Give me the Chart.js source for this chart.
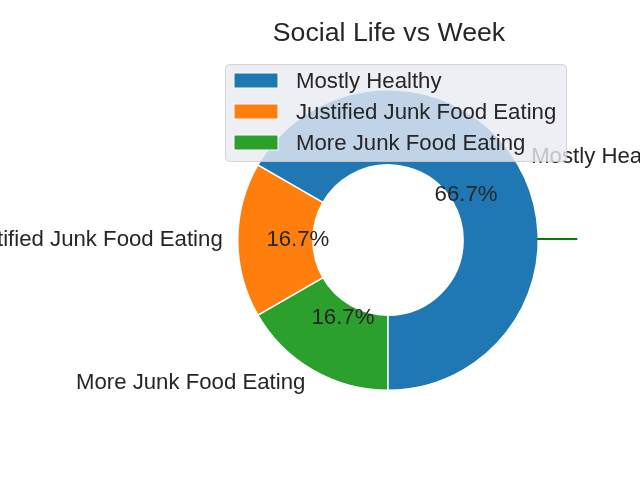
<!DOCTYPE html>
<html>
<head>
<meta charset="utf-8">
<script src="https://cdn.jsdelivr.net/npm/chart.js@4"></script>
<style>
  html, body { margin: 0; padding: 0; background: #ffffff; }
  #c { display: block; }
</style>
</head>
<body>
<canvas id="c" width="640" height="480"></canvas>
<script>
// ---- Data ----
const titleText = "Social Life vs Week";
const categories = ["Mostly Healthy", "Justified Junk Food Eating", "More Junk Food Eating"];
const counts = [4, 1, 1];
const colors = ["#1f77b4", "#ff7f0e", "#2ca02c"];

const FONT = '"Liberation Sans", Arial, "DejaVu Sans", sans-serif';
const TEXT = '#262626';
const LABEL_PX = 22.2;
const TITLE_PX = 26.7;

// matplotlib draws counter-clockwise from 6 o'clock; Chart.js draws clockwise,
// so feed the slices reversed and start at 6 o'clock.
const order = categories.map((_, i) => i).reverse();
const total = counts.reduce((a, b) => a + b, 0);

function sliceGeom(chart) {
  const meta = chart.getDatasetMeta(0);
  return meta.data.map((arc, j) => {
    const p = arc.getProps(['x', 'y', 'startAngle', 'endAngle', 'innerRadius', 'outerRadius'], true);
    return { idx: order[j], ...p, mid: (p.startAngle + p.endAngle) / 2 };
  });
}

const decorPlugin = {
  id: 'decor',
  afterDatasetsDraw(chart) {
    const ctx = chart.ctx;
    const geoms = sliceGeom(chart);
    ctx.save();
    // outside labels
    ctx.font = LABEL_PX + 'px ' + FONT;
    ctx.fillStyle = TEXT;
    ctx.textBaseline = 'middle';
    geoms.forEach(g => {
      const R = g.outerRadius;
      const lx = g.x + Math.cos(g.mid) * R * 1.1;
      const ly = g.y + Math.sin(g.mid) * R * 1.1;
      ctx.textAlign = (Math.cos(g.mid) > 1e-9) ? 'left' : 'right';
      ctx.fillText(categories[g.idx], lx, ly);
    });
    // percentage labels
    ctx.textAlign = 'center';
    geoms.forEach(g => {
      const R = g.outerRadius;
      const px = g.x + Math.cos(g.mid) * R * 0.6;
      const py = g.y + Math.sin(g.mid) * R * 0.6;
      const pct = (counts[g.idx] / total * 100).toFixed(1) + '%';
      ctx.fillText(pct, px, py);
    });
    // stray horizontal line on the right
    const g0 = geoms[0];
    ctx.strokeStyle = '#008000';
    ctx.lineWidth = 2;
    ctx.beginPath();
    ctx.moveTo(g0.x + g0.outerRadius * 0.99, g0.y - 1);
    ctx.lineTo(g0.x + g0.outerRadius * 1.26, g0.y - 1);
    ctx.stroke();

    // legend (semi-transparent, drawn on top)
    const lx = 225.5, ly = 64.5, lw = 341, lh = 97, r = 4;
    ctx.beginPath();
    ctx.moveTo(lx + r, ly);
    ctx.lineTo(lx + lw - r, ly);
    ctx.arcTo(lx + lw, ly, lx + lw, ly + r, r);
    ctx.lineTo(lx + lw, ly + lh - r);
    ctx.arcTo(lx + lw, ly + lh, lx + lw - r, ly + lh, r);
    ctx.lineTo(lx + r, ly + lh);
    ctx.arcTo(lx, ly + lh, lx, ly + lh - r, r);
    ctx.lineTo(lx, ly + r);
    ctx.arcTo(lx, ly, lx + r, ly, r);
    ctx.closePath();
    ctx.fillStyle = 'rgba(234,234,242,0.8)';
    ctx.fill();
    ctx.strokeStyle = 'rgba(204,204,204,0.8)';
    ctx.lineWidth = 1;
    ctx.stroke();
    ctx.font = LABEL_PX + 'px ' + FONT;
    ctx.textAlign = 'left';
    ctx.textBaseline = 'middle';
    categories.forEach((c, i) => {
      const cy = 80.5 + i * 31;
      ctx.fillStyle = colors[i];
      ctx.fillRect(234, cy - 7.5, 44, 15);
      ctx.strokeStyle = '#ffffff';
      ctx.lineWidth = 1;
      ctx.strokeRect(234, cy - 7.5, 44, 15);
      ctx.fillStyle = TEXT;
      ctx.fillText(c, 296, cy + 1);
    });

    // title
    ctx.font = TITLE_PX + 'px ' + FONT;
    ctx.fillStyle = TEXT;
    ctx.textAlign = 'center';
    ctx.textBaseline = 'middle';
    ctx.fillText(titleText, g0.x + 1, 34);
    ctx.restore();
  }
};

new Chart(document.getElementById('c'), {
  type: 'doughnut',
  data: {
    labels: order.map(i => categories[i]),
    datasets: [{
      data: order.map(i => counts[i]),
      backgroundColor: order.map(i => colors[i]),
      borderColor: '#ffffff',
      borderWidth: 1.5,
      hoverOffset: 0
    }]
  },
  options: {
    responsive: false,
    animation: false,
    rotation: 180,
    cutout: '50%',
    layout: { padding: { left: 237, right: 101, top: 89, bottom: 89 } },
    plugins: {
      legend: { display: false },
      title: { display: false },
      tooltip: { enabled: false }
    }
  },
  plugins: [decorPlugin]
});
</script>
</body>
</html>
